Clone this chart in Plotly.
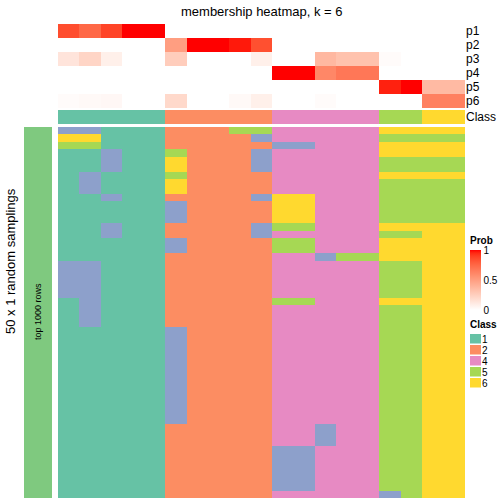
import plotly.graph_objects as go
import numpy as np

W = H = 504

# ---------------- data ----------------
prob_labels = ["p1", "p2", "p3", "p4", "p5", "p6"]
p1 = [0.85, 0.75, 0.88, 1.0, 1.0, 0, 0, 0, 0, 0, 0, 0, 0, 0, 0, 0, 0, 0, 0]
p2 = [0, 0, 0, 0, 0, 0.5, 1.0, 1.0, 0.97, 0.84, 0, 0, 0, 0, 0, 0, 0, 0, 0]
p3 = [0.14, 0.22, 0.08, 0, 0, 0.26, 0, 0, 0, 0.08, 0, 0, 0.37, 0.32, 0.32, 0.02, 0, 0, 0]
p4 = [0, 0, 0, 0, 0, 0, 0, 0, 0, 0, 1.0, 1.0, 0.61, 0.68, 0.68, 0, 0, 0, 0]
p5 = [0, 0, 0, 0, 0, 0, 0, 0, 0, 0, 0, 0, 0, 0, 0, 0.96, 1.0, 0.36, 0.36]
p6 = [0.02, 0.03, 0.04, 0, 0, 0.2, 0, 0, 0.03, 0.08, 0, 0, 0.02, 0, 0, 0, 0, 0.64, 0.64]
class_row = [1, 1, 1, 1, 1, 2, 2, 2, 2, 2, 4, 4, 4, 4, 4, 5, 5, 6, 6]
legend_classes = [1, 2, 4, 5, 6]

sampling_rows = [
    "3311122255444446666",
    "6611122223444445555",
    "5511122222334446666",
    "1131152223444446666",
    "1131162223444445555",
    "1131162223444445555",
    "1311152222444446666",
    "1311162222444445555",
    "1311162222444445555",
    "1131122223664445555",
    "1111132222664445555",
    "1111132222664445555",
    "1111132222664445555",
    "1131122223554446666",
    "1131122223444445566",
    "1111132222554446666",
    "1111132222554446666",
    "1111122222443556666",
    "3311122222444445566",
    "3311122222444445566",
    "3311122222444445566",
    "3311122222444445566",
    "3311122222444445566",
    "1311122222554446666",
    "1311122222444445566",
    "1311122222444445566",
    "1311122222444445566",
    "1111132222444445566",
    "1111132222444445566",
    "1111132222444445566",
    "1111132222444445566",
    "1111132222444445566",
    "1111132222444445566",
    "1111132222444445566",
    "1111132222444445566",
    "1111132222444445566",
    "1111132222444445566",
    "1111132222444445566",
    "1111132222444445566",
    "1111132222444445566",
    "1111122222443445566",
    "1111122222443445566",
    "1111122222443445566",
    "1111122222334445566",
    "1111122222334445566",
    "1111122222334445566",
    "1111122222334445566",
    "1111122222334445566",
    "1111122222334445566",
    "1111122222444443566",
]

# ---------------- styles ----------------
FONT = "Liberation Sans, Arial, sans-serif"
class_colors = {1: "#66C2A5", 2: "#FC8D62", 3: "#8DA0CB", 4: "#E78AC3", 5: "#A6D854", 6: "#FFD92F"}


def lab_ramp(n=21):
    # white -> red interpolated in CIE Lab
    def srgb_to_lin(c):
        c = c / 255.0
        return np.where(c <= 0.04045, c / 12.92, ((c + 0.055) / 1.055) ** 2.4)

    def lin_to_srgb(c):
        c = np.clip(c, 0, 1)
        return np.where(c <= 0.0031308, 12.92 * c, 1.055 * c ** (1 / 2.4) - 0.055) * 255

    M = np.array([[0.4124, 0.3576, 0.1805], [0.2126, 0.7152, 0.0722], [0.0193, 0.1192, 0.9505]])
    Minv = np.linalg.inv(M)
    wp = np.array([0.95047, 1.0, 1.08883])

    def f(t):
        return np.where(t > 0.008856, np.cbrt(t), 7.787 * t + 16 / 116)

    def finv(t):
        return np.where(t > 0.206893, t ** 3, (t - 16 / 116) / 7.787)

    def to_lab(rgb):
        xyz = M @ srgb_to_lin(np.array(rgb, float)) / wp
        fx, fy, fz = f(xyz)
        return np.array([116 * fy - 16, 500 * (fx - fy), 200 * (fy - fz)])

    def to_rgb(lab):
        L, a, b = lab
        fy = (L + 16) / 116
        fx = fy + a / 500
        fz = fy - b / 200
        xyz = finv(np.array([fx, fy, fz])) * wp
        return lin_to_srgb(Minv @ xyz)

    l0, l1 = to_lab([255, 255, 255]), to_lab([255, 0, 0])
    scale = []
    for t in np.linspace(0, 1, n):
        r, g, b = to_rgb(l0 + (l1 - l0) * t)
        scale.append([float(t), "rgb(%d,%d,%d)" % (round(r), round(g), round(b))])
    return scale


def discrete_scale():
    sc = []
    for i in range(6):
        c = class_colors[i + 1]
        sc.append([i / 6, c])
        sc.append([(i + 1) / 6, c])
    return sc


def px_x(p):
    return p / W


def px_y(p):
    return 1 - p / H


ncol = len(class_row)
cols = list(range(ncol))
prob_z = [p1, p2, p3, p4, p5, p6]
main_z = [[int(ch) for ch in row] for row in sampling_rows]
nrow = len(main_z)

fig = go.Figure()

fig.add_trace(go.Heatmap(
    z=prob_z, x=cols, y=prob_labels, xaxis="x", yaxis="y",
    colorscale=lab_ramp(), zmin=0, zmax=1, hoverinfo="skip",
    colorbar=dict(x=px_x(470), xanchor="left", y=px_y(250), yanchor="top",
                  len=60 / H, lenmode="fraction", thickness=11, thicknessmode="pixels",
                  outlinewidth=0, tickvals=[0, 0.5, 1], ticktext=["0", "0.5", "1"],
                  ticks="", tickfont=dict(size=10, family=FONT, color="black"),
                  xpad=0, ypad=0),
))

fig.add_trace(go.Heatmap(
    z=[class_row], x=cols, y=["Class"], xaxis="x", yaxis="y2",
    colorscale=discrete_scale(), zmin=0.5, zmax=6.5, showscale=False, hoverinfo="skip",
))

fig.add_trace(go.Heatmap(
    z=main_z, x=cols, y=list(range(nrow)), xaxis="x", yaxis="y3",
    colorscale=discrete_scale(), zmin=0.5, zmax=6.5, showscale=False, hoverinfo="skip",
))

fig.add_trace(go.Heatmap(
    z=[[1]], x=[0], y=[0], xaxis="x2", yaxis="y4",
    colorscale=[[0, "#7FC97F"], [1, "#7FC97F"]], showscale=False, hoverinfo="skip",
))

legend_labels = [str(c) for c in legend_classes]
fig.add_trace(go.Heatmap(
    z=[[c] for c in legend_classes], x=[0], y=legend_labels,
    xaxis="x3", yaxis="y5", ygap=1.5,
    colorscale=discrete_scale(), zmin=0.5, zmax=6.5, showscale=False, hoverinfo="skip",
))

hidden = dict(visible=False, showgrid=False, zeroline=False, fixedrange=True)
tickax = dict(showgrid=False, zeroline=False, ticks="", showline=False, side="right",
              tickfont=dict(size=12, family=FONT, color="black"))

fig.update_layout(
    width=W, height=H,
    margin=dict(l=0, r=0, t=0, b=0, autoexpand=False),
    paper_bgcolor="white", plot_bgcolor="white",
    font=dict(family=FONT, color="black"),
    xaxis=dict(domain=[px_x(58), px_x(465)], range=[-0.5, ncol - 0.5], anchor="y", **hidden),
    yaxis=dict(domain=[px_y(108), px_y(24)], anchor="x", range=[5.5, -0.5], type="category",
               tickmode="array", tickvals=prob_labels, ticktext=prob_labels, **tickax),
    yaxis2=dict(domain=[px_y(124), px_y(110)], anchor="x", type="category",
                tickmode="array", tickvals=["Class"], ticktext=["Class"], **tickax),
    yaxis3=dict(domain=[px_y(498), px_y(127)], anchor="x", range=[nrow - 0.5, -0.5], **hidden),
    xaxis2=dict(domain=[px_x(24), px_x(52)], range=[-0.5, 0.5], anchor="y4", **hidden),
    yaxis4=dict(domain=[px_y(498), px_y(127)], range=[-0.5, 0.5], anchor="x2", **hidden),
    xaxis3=dict(domain=[px_x(470), px_x(481)], range=[-0.5, 0.5], anchor="y5", **hidden),
    yaxis5=dict(domain=[px_y(389), px_y(334)], anchor="x3", type="category",
                range=[len(legend_classes) - 0.5, -0.5],
                tickmode="array", tickvals=legend_labels, ticktext=legend_labels,
                showgrid=False, zeroline=False, ticks="", side="right",
                tickfont=dict(size=10, family=FONT, color="black")),
    annotations=[
        dict(text="membership heatmap, k = 6", x=px_x(262), y=px_y(11.5), xref="paper", yref="paper",
             showarrow=False, xanchor="center", yanchor="middle", font=dict(size=13)),
        dict(text="50 x 1 random samplings", x=px_x(10), y=px_y(261), xref="paper", yref="paper",
             showarrow=False, textangle=-90, xanchor="center", yanchor="middle", font=dict(size=13)),
        dict(text="top 1000 rows", x=px_x(38), y=px_y(312), xref="paper", yref="paper",
             showarrow=False, textangle=-90, xanchor="center", yanchor="middle", font=dict(size=9)),
        dict(text="<b>Prob</b>", x=px_x(468), y=px_y(240), xref="paper", yref="paper",
             showarrow=False, xanchor="left", yanchor="middle", font=dict(size=10)),
        dict(text="<b>Class</b>", x=px_x(468), y=px_y(324), xref="paper", yref="paper",
             showarrow=False, xanchor="left", yanchor="middle", font=dict(size=10)),
    ],
)

fig.write_html("out.html", config={"displayModeBar": False},
               post_script="document.body.style.margin='0';document.body.style.padding='0';")
